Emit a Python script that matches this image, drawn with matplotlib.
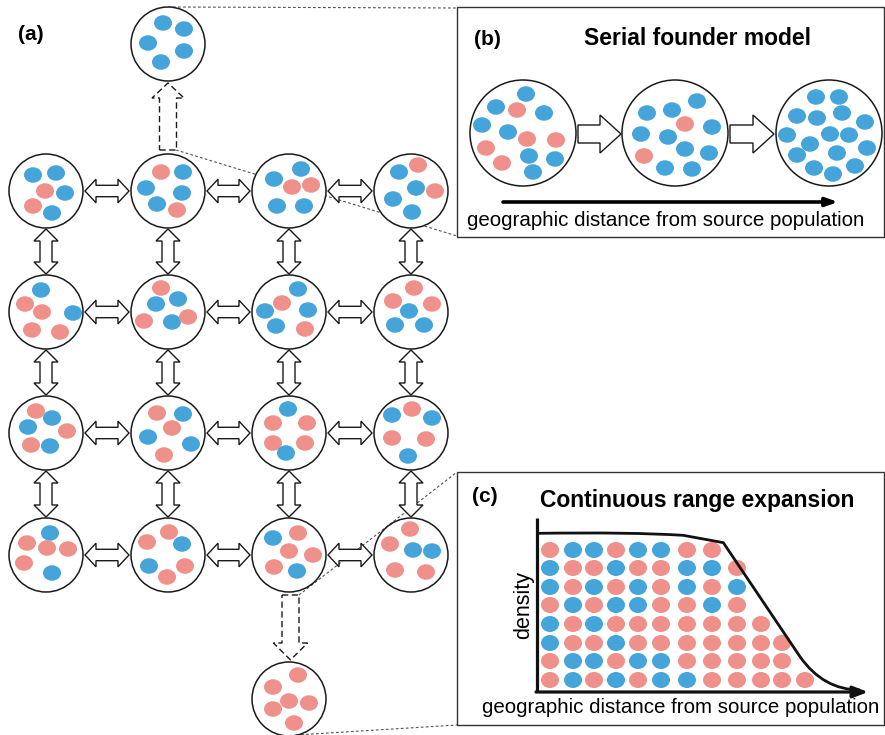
import matplotlib
matplotlib.use('Agg')
import matplotlib.pyplot as plt
from matplotlib.patches import Circle, Ellipse, Polygon
from matplotlib.path import Path
from matplotlib.patches import PathPatch

plt.rcParams['font.family'] = ['Liberation Sans', 'DejaVu Sans']

BLUE = '#45A4DA'
PINK = '#EF908B'
CMAP = {'B': BLUE, 'P': PINK}

# ---------------- panel (a): 4x4 stepping-stone grid ----------------
grid_cx = [46, 168, 289, 411]
grid_cy = [191, 312, 433, 555]
deme_r = 37

# colours of individuals in each deme (row by row)
deme_colors = [
    ["BBPBPB", "PBBBBP", "BBPPBB", "PBBPBB"],
    ["BPPBPP", "PBBPBP", "BPBBBP", "PPPBBB"],
    ["PBBPPB", "PBPBBP", "BPPPPB", "PBBPPB"],
    ["BPPPPB", "PPBBPP", "BPPPPB", "PPBBPP"],
]
# position of each individual inside its deme (offset from deme centre)
deme_offsets = [
    [[(-13,-16),(10,-18),(-1,0),(19,2),(-13,15),(6,22)],
     [(-7,-19),(15,-19),(-22,-3),(14,2),(-11,13),(9,19)],
     [(12,-22),(-15,-12),(3,-4),(22,-6),(-12,15),(15,15)],
     [(7,-26),(-12,-19),(5,-3),(24,0),(-18,8),(1,21)]],
    [[(-5,-22),(-21,-8),(-4,0),(27,1),(-14,18),(14,20)],
     [(-7,-24),(-12,-8),(10,-13),(-24,9),(4,10),(20,5)],
     [(9,-23),(-7,-9),(-24,-1),(19,-2),(-13,14),(16,17)],
     [(3,-24),(-18,-11),(21,-8),(-2,-1),(-16,13),(13,13)]],
    [[(-10,-22),(6,-15),(-18,-6),(21,-2),(-15,12),(4,13)],
     [(-11,-20),(15,-19),(4,-5),(-20,4),(23,11),(-4,22)],
     [(-1,-24),(-16,-10),(18,-10),(-16,10),(16,10),(-3,20)],
     [(1,-24),(-19,-18),(21,-15),(-19,5),(15,6),(-3,23)]],
    [[(4,-22),(-19,-12),(1,-7),(22,-6),(-22,8),(6,18)],
     [(1,-23),(-21,-13),(14,-11),(-19,11),(17,11),(-1,22)],
     [(-16,-17),(9,-22),(0,-4),(24,0),(-15,12),(8,16)],
     [(-1,-26),(-21,-11),(2,-5),(21,-4),(-16,15),(15,17)]],
]
# founder demes outside the grid
top_deme = (168, 44)
top_colors = "BBBBB"
top_offsets = [(-5,-21),(16,-15),(-20,-1),(16,7),(-7,18)]
bottom_deme = (289, 699)
bottom_colors = "PPPPPP"
bottom_offsets = [(9,-24),(-16,-12),(0,2),(20,4),(-16,10),(5,24)]

# ---------------- panel (b): serial founder model ----------------
b_centers = [(523,133), (675,133), (829,133)]
b_r = 53
b_colors = ["BBPBBBPPPBBPB", "BBBPBBBBBPBB", "BBBBBBBBBBBBBBBB"]
b_offsets = [
    [(3,-39),(-27,-26),(-6,-23),(21,-20),(-41,-8),(-15,-1),(4,6),(33,7),
     (-37,15),(6,23),(32,26),(-21,30),(10,39)],
    [(22,-32),(-28,-20),(-3,-23),(10,-9),(37,-6),(-34,1),(-7,4),(10,16),
     (34,20),(-31,23),(-10,35),(17,36)],
    [(-13,-36),(10,-36),(-32,-17),(-12,-15),(13,-20),(36,-11),(-42,2),(1,1),
     (20,2),(-19,11),(38,15),(-32,22),(8,20),(-15,35),(26,33),(4,41)],
]

# ---------------- panel (c): continuous range expansion ----------------
c_rows = ["PBBPBBPP", "BPPBPPBBP", "BPBPBPBPB", "PBPBBPPBP",
          "BPBPPPPPPP", "BPPBPPPPPPP", "PBBPBBPPPPP", "PBPBPBBPPPPP"]
c_col_x = [550, 573, 594, 616, 638, 661, 687, 712, 737, 761, 782, 805]
c_row_y = [550, 568, 587, 605, 624, 643, 661, 680]

fig = plt.figure(figsize=(8.85, 7.35), dpi=100)
ax = fig.add_axes([0, 0, 1, 1])
ax.set_xlim(0, 885)
ax.set_ylim(735, 0)
ax.axis('off')

EDGE = '#1a1a1a'

def dot(x, y, c, w=18, h=15.5, z=4):
    ax.add_patch(Ellipse((x, y), w, h, facecolor=CMAP[c], edgecolor='none', zorder=z))

def deme(cx, cy, r, colors, offsets, w=18, h=15.5):
    ax.add_patch(Circle((cx, cy), r, facecolor='white', edgecolor=EDGE, lw=1.1, zorder=3))
    for c, (dx, dy) in zip(colors, offsets):
        dot(cx + dx, cy + dy, c, w, h)

def harrow(x0, x1, y, hs=5.7, hh=11.8, hl=11):
    pts = [(x0, y), (x0+hl, y-hh), (x0+hl, y-hs), (x1-hl, y-hs), (x1-hl, y-hh),
           (x1, y), (x1-hl, y+hh), (x1-hl, y+hs), (x0+hl, y+hs), (x0+hl, y+hh)]
    ax.add_patch(Polygon(pts, closed=True, facecolor='white', edgecolor=EDGE, lw=1.0, zorder=2))

def varrow(x, y0, y1, hs=6, hh=12, hl=12):
    pts = [(x, y0), (x+hh, y0+hl), (x+hs, y0+hl), (x+hs, y1-hl), (x+hh, y1-hl),
           (x, y1), (x-hh, y1-hl), (x-hs, y1-hl), (x-hs, y0+hl), (x-hh, y0+hl)]
    ax.add_patch(Polygon(pts, closed=True, facecolor='white', edgecolor=EDGE, lw=1.0, zorder=2))

def dashed_arrow(x, ybase, yhead, ytip, hs=8.5, hh=16):
    pts = [(x-hs, ybase), (x+hs, ybase), (x+hs, yhead), (x+hh, yhead), (x, ytip),
           (x-hh, yhead), (x-hs, yhead)]
    ax.add_patch(Polygon(pts, closed=True, facecolor='white', edgecolor=EDGE, lw=1.0,
                         linestyle=(0, (4.5, 2.5)), zorder=2))

# zoom guide lines
guide = dict(color='#555555', lw=0.8, linestyle=(0, (2.5, 2)), zorder=1)
ax.plot([168, 457], [7, 8], **guide)
ax.plot([176, 457], [150, 236], **guide)
ax.plot([299, 457], [595, 472], **guide)
ax.plot([296, 457], [735, 725], **guide)

# grid demes and migration arrows
for i, cy in enumerate(grid_cy):
    for j, cx in enumerate(grid_cx):
        deme(cx, cy, deme_r, deme_colors[i][j], deme_offsets[i][j])
        if j < 3:
            harrow(cx + deme_r + 2, grid_cx[j+1] - deme_r - 2, cy)
        if i < 3:
            varrow(cx, cy + deme_r + 1, grid_cy[i+1] - deme_r - 1)

deme(*top_deme, deme_r, top_colors, top_offsets)
deme(*bottom_deme, deme_r, bottom_colors, bottom_offsets)
dashed_arrow(168, 150, 98, 83)
dashed_arrow(290.5, 595, 643, 660, hh=17)

ax.text(31, 40, '(a)', fontsize=15, fontweight='bold', ha='center', va='baseline')

# panel (b)
ax.add_patch(plt.Rectangle((457, 7), 426.5, 230, facecolor='none', edgecolor='#333333', lw=1.0, zorder=1))
ax.text(487, 45, '(b)', fontsize=15, fontweight='bold', ha='center', va='baseline')
ax.text(698, 45, 'Serial founder model', fontsize=16.5, fontweight='bold', ha='center', va='baseline')
for (cx, cy), cols, offs in zip(b_centers, b_colors, b_offsets):
    deme(cx, cy, b_r, cols, offs)
for x0, xh, x1 in [(578, 600, 621), (730, 753, 774)]:
    pts = [(x0, 125), (xh, 125), (xh, 115), (x1, 134), (xh, 153), (xh, 143), (x0, 143)]
    ax.add_patch(Polygon(pts, closed=True, facecolor='white', edgecolor=EDGE, lw=1.0, zorder=2))
ax.annotate('', xy=(838, 202), xytext=(503, 202),
            arrowprops=dict(arrowstyle='-|>,head_length=0.7,head_width=0.25', lw=2.6,
                            color='black', shrinkA=0, shrinkB=0))
ax.text(666, 226, 'geographic distance from source population', fontsize=14.8,
        ha='center', va='baseline')

# panel (c)
ax.add_patch(plt.Rectangle((457, 472), 426.5, 253, facecolor='none', edgecolor='#333333', lw=1.0, zorder=1))
ax.text(485, 502, '(c)', fontsize=15, fontweight='bold', ha='center', va='baseline')
ax.text(697, 507, 'Continuous range expansion', fontsize=16.5, fontweight='bold', ha='center', va='baseline')
for row, y in zip(c_rows, c_row_y):
    for c, x in zip(row, c_col_x):
        dot(x, y, c, 18, 16)

curve_zoom = [(262, 220), (545, 216), (700, 226), (820, 248),
              (1050, 590), (1120, 690), (1230, 690)]
curve = [(450 + zx / 3, 460 + zy / 3) for zx, zy in curve_zoom]
codes = [Path.MOVETO, Path.CURVE3, Path.CURVE3, Path.LINETO, Path.LINETO, Path.CURVE3, Path.CURVE3]
ax.add_patch(PathPatch(Path(curve, codes), facecolor='none', edgecolor='#111111', lw=2.0, zorder=5))

ax.plot([537, 537], [518, 692], color='#111111', lw=2.3, solid_capstyle='butt', zorder=6)
ax.annotate('', xy=(868, 692), xytext=(536, 692),
            arrowprops=dict(arrowstyle='-|>,head_length=0.9,head_width=0.35', lw=2.3,
                            color='#111111', shrinkA=0, shrinkB=0), zorder=6)
ax.text(529, 605, 'density', fontsize=15.5, rotation=90, rotation_mode='anchor',
        ha='center', va='baseline')
ax.text(681, 713, 'geographic distance from source population', fontsize=14.8,
        ha='center', va='baseline')

fig.savefig('out.png', dpi=100)
